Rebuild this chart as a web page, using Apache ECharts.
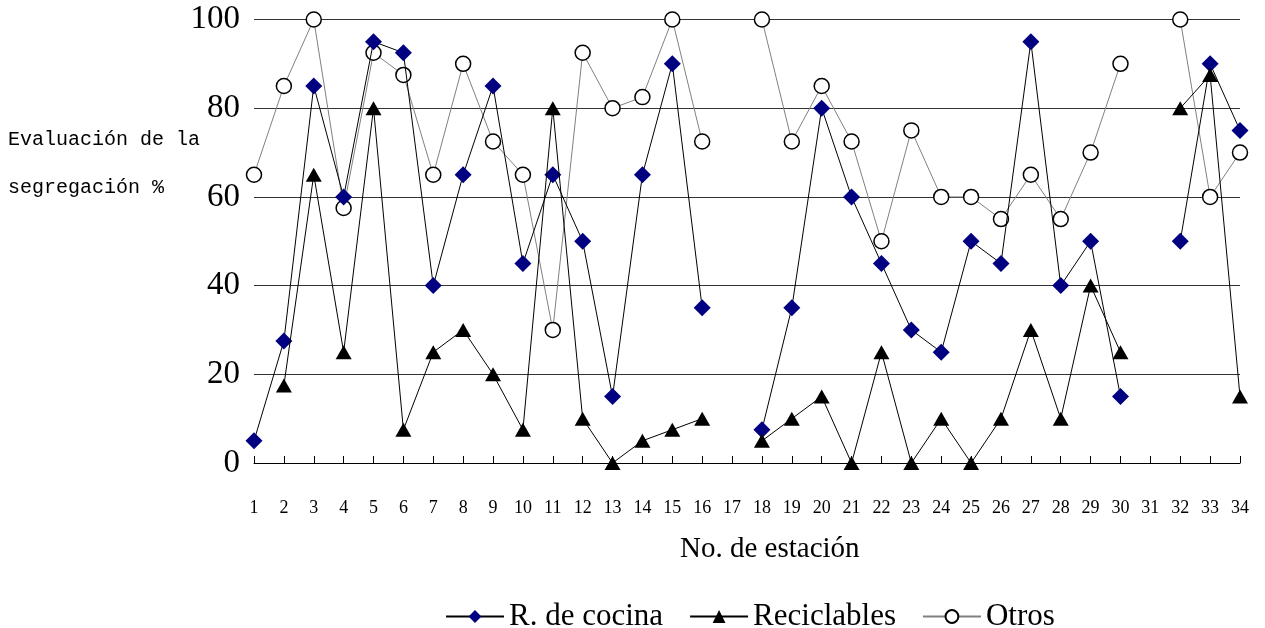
<!DOCTYPE html>
<html>
<head>
<meta charset="utf-8">
<script src="https://cdn.jsdelivr.net/npm/echarts@6/dist/echarts.min.js"></script>
<style>
html,body{margin:0;padding:0;background:#fff;}
#main{width:1265px;height:628px;}
</style>
</head>
<body>
<div id="main"></div>
<script>
var estaciones = [];
for (var i = 1; i <= 34; i++) { estaciones.push(String(i)); }

// null = sin dato
var cocina = [5, 27.5, 85, 60, 95, 92.5, 40, 65, 85, 45, 65, 50, 15, 65, 90, 35, null,
  7.5, 35, 80, 60, 45, 30, 25, 50, 45, 95, 40, 50, 15, null, 50, 90, 75];
var reciclables = [null, 17.5, 65, 25, 80, 7.5, 25, 30, 20, 7.5, 80, 10, 0, 5, 7.5, 10, null,
  5, 10, 15, 0, 25, 0, 10, 0, 10, 30, 10, 40, 25, null, 80, 87.5, 15];
var otros = [65, 85, 100, 57.5, 92.5, 87.5, 65, 90, 72.5, 65, 30, 92.5, 80, 82.5, 100, 72.5, null,
  100, 72.5, 85, 72.5, 50, 75, 60, 60, 55, 65, 55, 70, 90, null, 100, 60, 70];

var serif = '"Liberation Serif", "Times New Roman", serif';

var myChart = echarts.init(document.getElementById('main'));
var option = {
  animation: false,
  grid: { left: 254, right: 25, top: 19.5, bottom: 165, containLabel: false },
  legend: {
    top: 596,
    left: 440,
    itemWidth: 58,
    itemHeight: 16,
    itemGap: 26,
    textStyle: { fontFamily: serif, fontSize: 31, color: '#000' },
    data: ['R. de cocina', 'Reciclables', 'Otros']
  },
  graphic: [
    { type: 'text', left: 8, top: 130, style: { text: 'Evaluación de la', font: '20px "Liberation Mono", monospace', fill: '#000' } },
    { type: 'text', left: 8, top: 178, style: { text: 'segregación %', font: '20px "Liberation Mono", monospace', fill: '#000' } },
    { type: 'text', left: 680, top: 535, style: { text: 'No. de estación', font: '29px "Liberation Serif", serif', fill: '#000' } }
  ],
  xAxis: {
    type: 'category',
    data: estaciones,
    boundaryGap: false,
    axisLine: { lineStyle: { color: '#000', width: 1 } },
    axisTick: { inside: true, length: 7, lineStyle: { color: '#000' }, interval: 0 },
    axisLabel: { interval: 0, margin: 36, fontFamily: serif, fontSize: 18, color: '#000' },
    splitLine: { show: false }
  },
  yAxis: {
    type: 'value',
    min: 0,
    max: 100,
    interval: 20,
    axisLine: { show: false },
    axisTick: { show: false },
    axisLabel: { margin: 14, fontFamily: serif, fontSize: 33, color: '#000' },
    splitLine: { lineStyle: { color: '#333', width: 1 } }
  },
  series: [
    {
      name: 'Otros',
      type: 'line',
      data: otros,
      z: 2,
      symbol: 'circle',
      symbolSize: 15,
      showAllSymbol: true,
      lineStyle: { color: '#808080', width: 1 },
      itemStyle: { color: '#fff', borderColor: '#000', borderWidth: 1.5 }
    },
    {
      name: 'R. de cocina',
      type: 'line',
      data: cocina,
      z: 3,
      symbol: 'diamond',
      symbolSize: 17,
      showAllSymbol: true,
      lineStyle: { color: '#000', width: 1 },
      itemStyle: { color: '#000080', borderWidth: 0 }
    },
    {
      name: 'Reciclables',
      type: 'line',
      data: reciclables,
      z: 4,
      symbol: 'triangle',
      symbolSize: [16, 14],
      showAllSymbol: true,
      lineStyle: { color: '#000', width: 1 },
      itemStyle: { color: '#000', borderWidth: 0 }
    }
  ]
};
myChart.setOption(option);
</script>
</body>
</html>
